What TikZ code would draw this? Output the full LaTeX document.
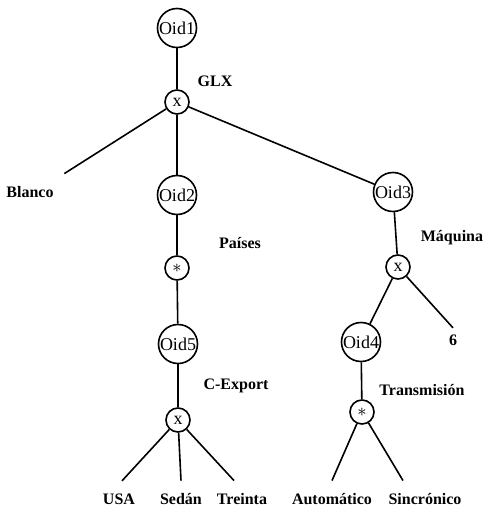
\documentclass[tikz,border=0pt]{standalone}
\usepackage{fontspec}
\setmainfont{Liberation Serif}
\begin{document}
\begin{tikzpicture}[x=0.5pt,y=-0.5pt,line width=0.8pt,
    oid/.style={draw,circle,minimum size=19.5pt,inner sep=0pt,font=\fontsize{9}{10}\selectfont},
    opr/.style={draw,circle,minimum size=12pt,inner sep=0pt,font=\fontsize{9}{10}\selectfont},
    lbl/.style={font=\fontsize{8}{9}\selectfont\bfseries},
    leaf/.style={lbl,inner xsep=1pt,inner ysep=6pt}]
    \useasboundingbox (0,0) rectangle (484,509);
    \node[oid] (oid1) at (177,28) {Oid1};
    \node[opr] (x1) at (177,102) {x};
    \node[oid] (oid2) at (177,195) {Oid2};
    \node[opr] (s1) at (177,268) {$\ast$};
    \node[oid] (oid5) at (178,344) {Oid5};
    \node[opr] (x2) at (178,420) {x};
    \node[oid] (oid3) at (393,192) {Oid3};
    \node[opr] (x3) at (398,267) {x};
    \node[oid] (oid4) at (361,342) {Oid4};
    \node[opr] (s2) at (362,412) {$\ast$};
    \node[lbl] (glx) at (215,81) {GLX};
    \node[lbl] (paises) at (240,243) {Países};
    \node[lbl] (cexport) at (236,386) {C-Export};
    \node[lbl] (maquina) at (452,238) {Máquina};
    \node[lbl] (transm) at (422,390) {Transmisión};
    \node[leaf] (blanco) at (30,192) {Blanco};
    \node[leaf] (six) at (453,340) {6};
    \node[leaf] (usa) at (119,499) {USA};
    \node[leaf] (sedan) at (181,499) {Sedán};
    \node[leaf] (treinta) at (242,499) {Treinta};
    \node[leaf] (autom) at (332,499) {Automático};
    \node[leaf] (sincr) at (425,499) {Sincrónico};
    \draw (oid1) -- (x1);
    \draw (x1) -- ([xshift=4pt]blanco.north east);
    \draw (x1) -- (oid2);
    \draw (x1) -- (oid3);
    \draw (oid2) -- (s1);
    \draw (s1) -- (oid5);
    \draw (oid5) -- (x2);
    \draw (x2) -- ([xshift=1.5pt]usa.north);
    \draw (x2) -- (sedan.north);
    \draw (x2) -- ([xshift=-4pt]treinta.north);
    \draw (oid3) -- (x3);
    \draw (x3) -- (oid4);
    \draw (x3) -- ([yshift=-3pt]six.north);
    \draw (oid4) -- (s2);
    \draw (s2) -- (autom.north);
    \draw (s2) -- ([xshift=-11pt]sincr.north);
\end{tikzpicture}
\end{document}
